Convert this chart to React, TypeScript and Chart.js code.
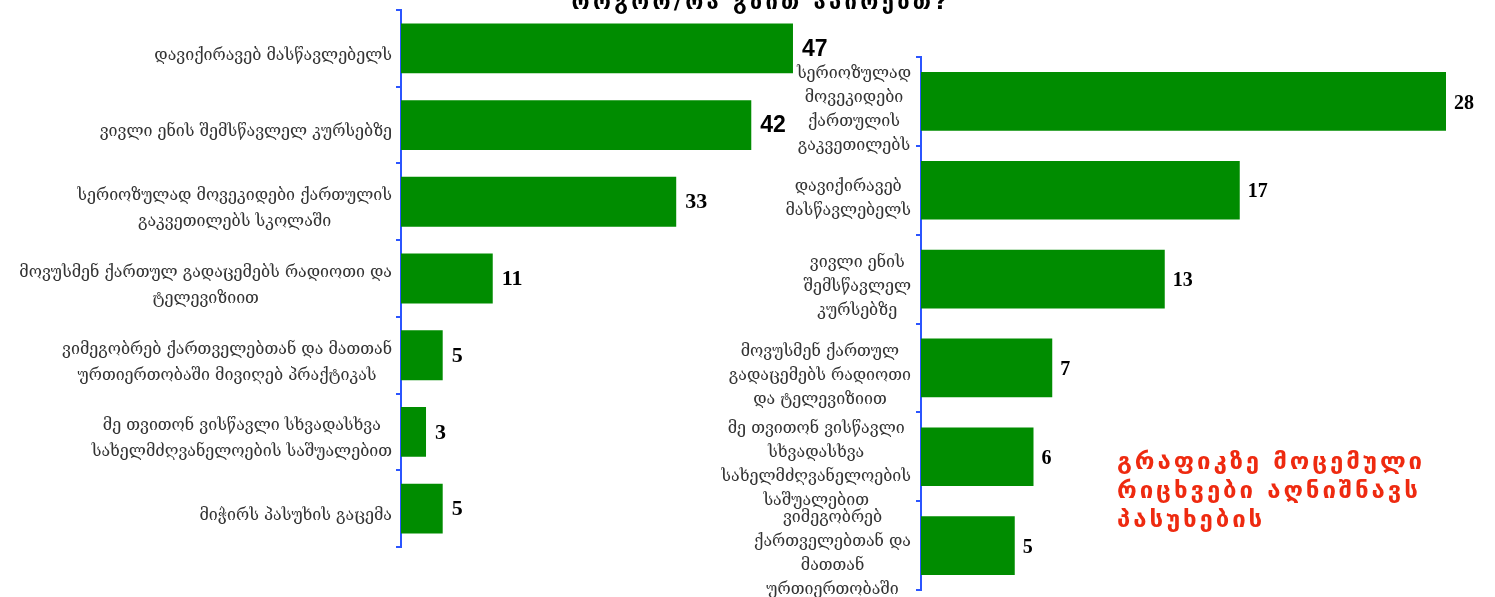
import React, { useEffect, useRef } from "react";
import { Chart, registerables } from "chart.js";

Chart.register(...registerables);

// ---------- data ----------
const titleText = "როგორ/რა გზით აპირებთ?";

const leftCategories: string[][] = [
  ["დავიქირავებ მასწავლებელს"],
  ["ვივლი ენის შემსწავლელ კურსებზე"],
  ["სერიოზულად მოვეკიდები ქართულის", "გაკვეთილებს სკოლაში"],
  ["მოვუსმენ ქართულ გადაცემებს რადიოთი და", "ტელევიზიით"],
  ["ვიმეგობრებ ქართველებთან და მათთან", "ურთიერთობაში მივიღებ პრაქტიკას"],
  ["მე თვითონ ვისწავლი სხვადასხვა", "სახელმძღვანელოების საშუალებით"],
  ["მიჭირს პასუხის გაცემა"],
];
const leftValues = [47, 42, 33, 11, 5, 3, 5];

const rightCategories: string[][] = [
  ["სერიოზულად", "მოვეკიდები", "ქართულის", "გაკვეთილებს"],
  ["დავიქირავებ", "მასწავლებელს"],
  ["ვივლი ენის", "შემსწავლელ", "კურსებზე"],
  ["მოვუსმენ ქართულ", "გადაცემებს რადიოთი", "და ტელევიზიით"],
  ["მე თვითონ ვისწავლი", "სხვადასხვა", "სახელმძღვანელოების", "საშუალებით"],
  ["ვიმეგობრებ", "ქართველებთან და", "მათთან", "ურთიერთობაში"],
];
const rightValues = [28, 17, 13, 7, 6, 5];

const noteLines = ["გრაფიკზე მოცემული", "რიცხვები აღნიშნავს", "პასუხების"];

// ---------- styles ----------
const GREEN = "#008c00";
const BLUE = "#2b55ff";
const LABEL_COLOR = "#333333";

type LabelCfg = {
  catFont: string;
  catFontSize: number;
  lineHeight: number;
  catGap: number;
  catShift: number;
  valueFont: (i: number) => string;
  valueGap: number;
  valueShift: number;
};

function makeLabelPlugin(cats: string[][], values: number[], cfg: LabelCfg) {
  return {
    id: "customLabels",
    afterDraw(chart: any) {
      const ctx = chart.ctx as CanvasRenderingContext2D;
      const yScale = chart.scales.y;
      const area = chart.chartArea;
      ctx.save();
      ctx.font = cfg.catFont;
      ctx.fillStyle = LABEL_COLOR;
      ctx.textAlign = "center";
      ctx.textBaseline = "alphabetic";
      cats.forEach((lines, i) => {
        const cy = yScale.getPixelForValue(i) + cfg.catShift;
        const maxW = Math.max(...lines.map((l) => ctx.measureText(l).width));
        const cx = area.left - cfg.catGap - maxW / 2;
        const n = lines.length;
        lines.forEach((l, j) => {
          const by = cy + (j - (n - 1) / 2) * cfg.lineHeight + 0.27 * cfg.catFontSize;
          ctx.fillText(l, cx, by);
        });
      });
      const meta = chart.getDatasetMeta(0);
      ctx.textAlign = "left";
      ctx.textBaseline = "middle";
      ctx.fillStyle = "#000000";
      meta.data.forEach((bar: any, i: number) => {
        ctx.font = cfg.valueFont(i);
        ctx.fillText(String(values[i]), bar.x + cfg.valueGap, bar.y + cfg.valueShift);
      });
      ctx.restore();
    },
  };
}

function makeConfig(
  cats: string[][],
  values: number[],
  xMax: number,
  barPct: number,
  padding: { left: number; right: number; top: number; bottom: number },
  cfg: LabelCfg
): any {
  return {
    type: "bar",
    data: {
      labels: cats.map((c) => c.join(" ")),
      datasets: [
        {
          data: values,
          backgroundColor: GREEN,
          borderWidth: 0,
          barPercentage: barPct,
          categoryPercentage: 1,
        },
      ],
    },
    options: {
      indexAxis: "y",
      responsive: false,
      animation: false,
      layout: { padding },
      plugins: {
        legend: { display: false },
        tooltip: { enabled: false },
        title: { display: false },
      },
      scales: {
        x: { display: false, min: 0, max: xMax },
        y: {
          grid: {
            display: true,
            drawOnChartArea: false,
            drawTicks: true,
            tickLength: 5,
            color: BLUE,
            lineWidth: 2,
            offset: true,
          },
          border: { display: true, color: BLUE, width: 2 },
          ticks: { display: false },
        },
      },
    },
    plugins: [makeLabelPlugin(cats, values, cfg)],
  };
}

function BarChart(props: { config: any; left: number; width: number; height: number }) {
  const ref = useRef<HTMLCanvasElement | null>(null);
  useEffect(() => {
    if (!ref.current) return;
    const chart = new Chart(ref.current, props.config);
    return () => chart.destroy();
  }, []);
  return (
    <canvas
      ref={ref}
      width={props.width}
      height={props.height}
      style={{ position: "absolute", left: props.left, top: 0, width: props.width, height: props.height }}
    />
  );
}

export default function App() {
  const leftCfg = makeConfig(
    leftCategories,
    leftValues,
    50,
    0.65,
    { left: 396, right: 62, top: 10, bottom: 50 },
    {
      catFont: '16px "DejaVu Serif"',
      catFontSize: 16,
      lineHeight: 26,
      catGap: 9,
      catShift: 7,
      valueFont: (i) => (i < 2 ? 'bold 23px "Liberation Sans"' : 'bold 22px "Liberation Serif"'),
      valueGap: 9,
      valueShift: 1,
    }
  );
  const rightCfg = makeConfig(
    rightCategories,
    rightValues,
    30,
    0.66,
    { left: 216, right: 11.5, top: 57, bottom: 7 },
    {
      catFont: '16px "DejaVu Serif"',
      catFontSize: 16,
      lineHeight: 24,
      catGap: 10,
      catShift: 8,
      valueFont: () => 'bold 20px "Liberation Serif"',
      valueGap: 8,
      valueShift: 2,
    }
  );
  return (
    <div style={{ position: "fixed", left: 0, top: 0, width: 1495, height: 597, background: "#ffffff", overflow: "hidden" }}>
      <BarChart config={leftCfg} left={0} width={880} height={597} />
      <BarChart config={rightCfg} left={700} width={795} height={597} />
      <div
        style={{
          position: "absolute",
          left: 461,
          width: 600,
          top: -9,
          textAlign: "center",
          font: 'bold 22px "DejaVu Sans"',
          lineHeight: "22px",
          letterSpacing: "3.3px",
          color: "#000",
          whiteSpace: "nowrap",
        }}
      >
        {titleText}
      </div>
      <div
        style={{
          position: "absolute",
          left: 1117,
          top: 447,
          font: 'bold 24px "DejaVu Sans"',
          lineHeight: "29px",
          letterSpacing: "2.9px",
          color: "#ee2a10",
          whiteSpace: "nowrap",
        }}
      >
        {noteLines.map((l, i) => (
          <div key={i}>{l}</div>
        ))}
      </div>
    </div>
  );
}
